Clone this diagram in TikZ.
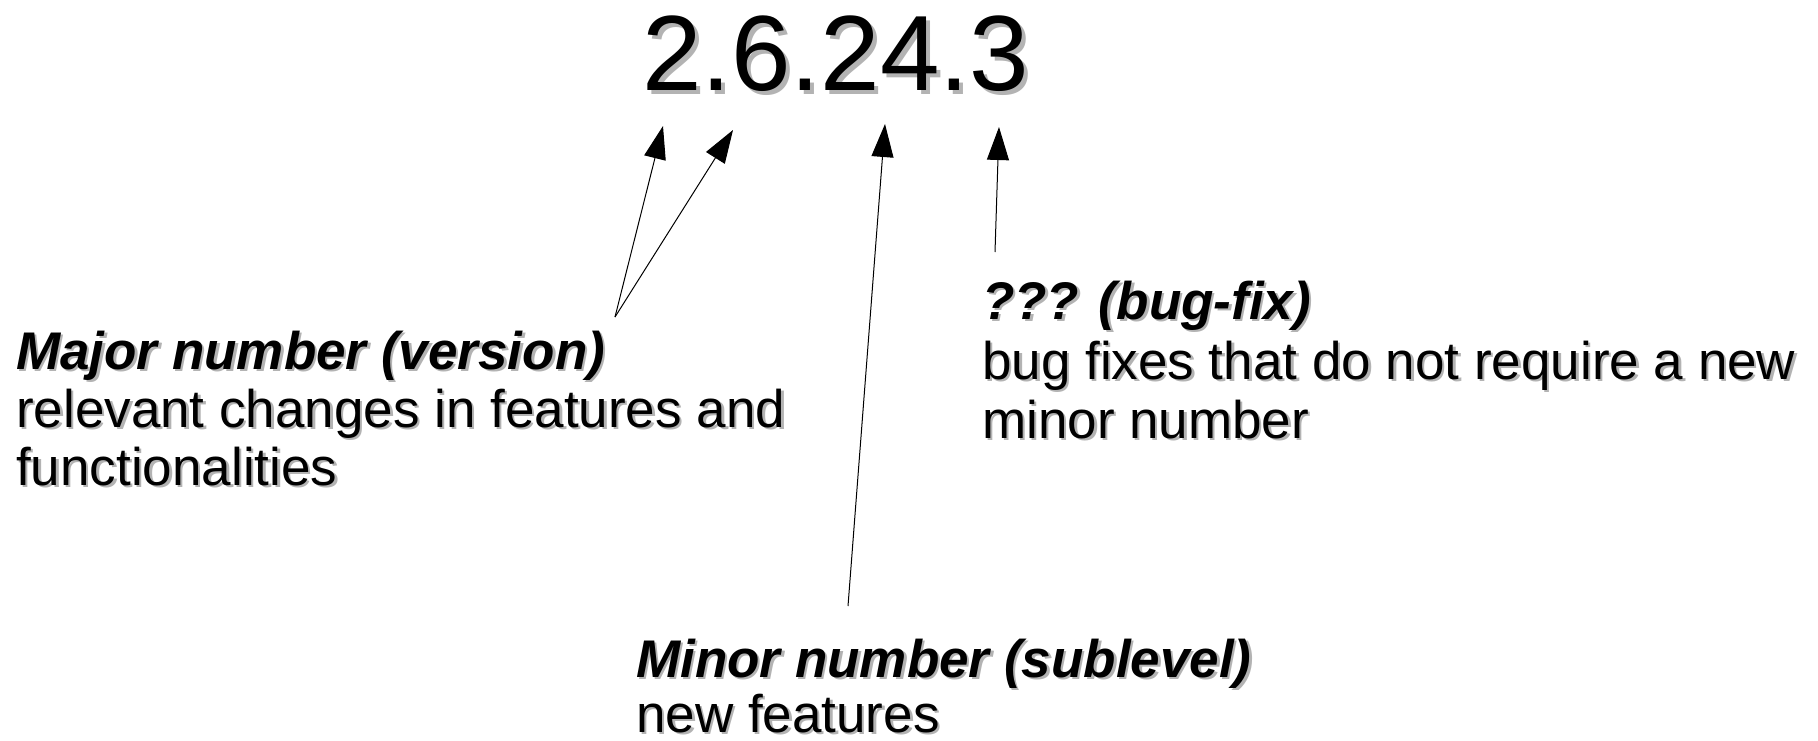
\documentclass[tikz,border=0pt]{standalone}
\usepackage{fontspec}
\setmainfont{Liberation Sans}
\usetikzlibrary{arrows.meta}
\definecolor{shadowgray}{HTML}{B3B3B3}
\newcommand\stext[5]{%
  \node[txt,#3,text=shadowgray] at ([shift={(#4,#4)}]#2) {#5};
  \node[txt,#3] (#1) at (#2) {#5};
}
\begin{document}
\begin{tikzpicture}[x=1pt,y=-1pt,
  txt/.style={inner sep=0pt,anchor=base west},
  bignum/.style={font=\fontsize{107}{107}\selectfont},
  head/.style={font=\fontsize{53}{58}\selectfont\bfseries\itshape},
  body/.style={font=\fontsize{53}{58}\selectfont},
  pointer/.style={line width=1pt,-{Triangle[length=33pt,width=22pt]}}]
\useasboundingbox (0,0) rectangle (1818,740);
% version number
\stext{ver}{642,90}{bignum}{4}{2.6.24.3}
% major block
\stext{majh}{16,369}{head}{2.5}{Major number (version)}
\stext{maj1}{16,427}{body}{2.5}{relevant changes in features and}
\stext{maj2}{16,485}{body}{2.5}{functionalities}
% bug-fix block
\stext{bugh}{982,319}{head}{2.5}{??? (bug-fix)}
\stext{bug1}{982,379}{body}{2.5}{bug fixes that do not require a new}
\stext{bug2}{982,438}{body}{2.5}{minor number}
% minor block
\stext{minh}{636,677}{head}{2.5}{Minor number (sublevel)}
\stext{min1}{636,732}{body}{2.5}{new features}
% arrow ends
\coordinate (majfoot) at (615,317);
\coordinate (minfoot) at (848,606);
\coordinate (bugfoot) at (995,252);
\coordinate (t1) at (663,126);
\coordinate (t2) at (733,130);
\coordinate (t3) at (885,124);
\coordinate (t4) at (999,127);
\draw[pointer] (majfoot) -- (t1);
\draw[pointer] (majfoot) -- (t2);
\draw[pointer] (minfoot) -- (t3);
\draw[pointer] (bugfoot) -- (t4);
\end{tikzpicture}
\end{document}
